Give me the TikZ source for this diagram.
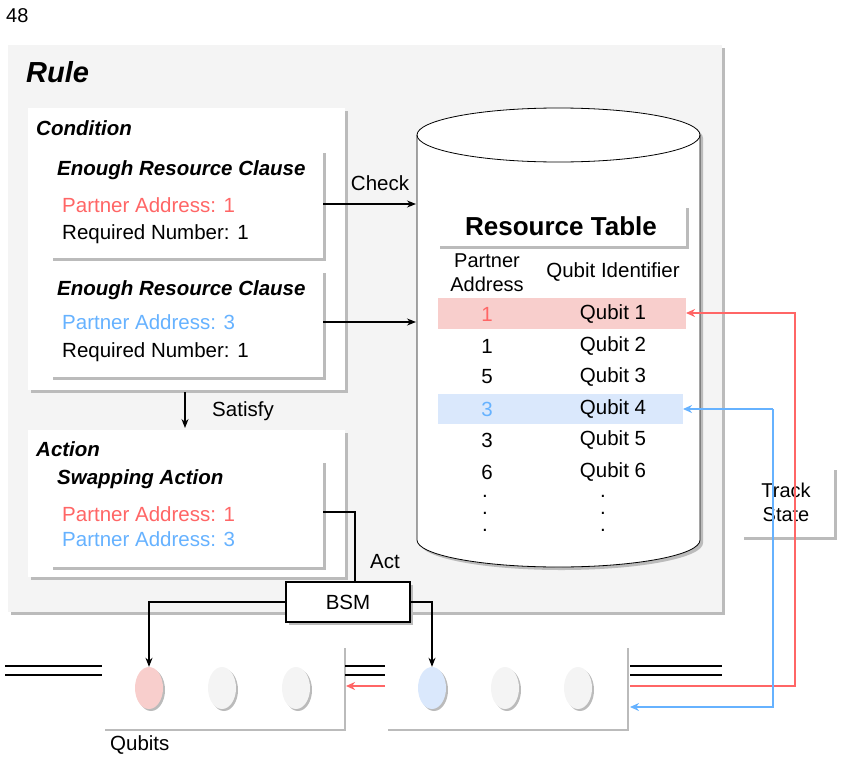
\documentclass[tikz,border=0pt]{standalone}
\usepackage{fontspec}
\setmainfont{Liberation Sans}
\usetikzlibrary{arrows.meta,shapes.geometric}
\definecolor{pred}{HTML}{FF6666}
\definecolor{pblue}{HTML}{66B2FF}
\definecolor{fred}{HTML}{F8CECC}
\definecolor{fblue}{HTML}{DAE8FC}
\definecolor{fgray}{HTML}{F4F4F4}
\definecolor{shd}{HTML}{BBBBBB}
\begin{document}
\begin{tikzpicture}[x=1pt,y=-1pt,
  t/.style={font=\fontsize{20.5}{22}\selectfont, inner sep=0pt},
  tb/.style={font=\fontsize{20.5}{22}\selectfont\bfseries\itshape, inner sep=0pt},
  arr/.style={-{Stealth[length=9pt,width=7pt]}, line width=1.2pt},
  carr/.style={-{Stealth[length=9pt,width=8pt]}, line width=1.5pt},
]
\useasboundingbox (0,0) rectangle (842,760);
\node[font=\fontsize{20}{22}\selectfont\rmfamily, anchor=west, inner sep=0pt] (pg) at (6,16) {48};
% Rule panel
\fill[shd] (11,48) rectangle (725,615);
\fill[fgray] (8,45) rectangle (722,612);
\node[font=\fontsize{29}{32}\selectfont\bfseries\itshape, anchor=west, inner sep=0pt] (rule) at (26,72) {Rule};
% Condition box
\fill[shd] (31,111) rectangle (348,393);
\fill[white] (28,108) rectangle (345,390);
\node[tb, anchor=west] (cond) at (36,128) {Condition};
\fill[shd] (53,153) rectangle (326,261);
\fill[white] (50,150) rectangle (323,258);
\coordinate (c1e) at (323,204);
\node[tb, anchor=west] (c1t) at (57,170) {Enough Resource Clause};
\node[t, anchor=west, text=pred] (c1p) at (62,205) {Partner Address: 1};
\node[t, anchor=west] (c1r) at (62,234) {Required Number: 1};
\fill[shd] (53,273) rectangle (326,380);
\fill[white] (50,270) rectangle (323,377);
\coordinate (c2e) at (323,322);
\node[tb, anchor=west] (c2t) at (57,290) {Enough Resource Clause};
\node[t, anchor=west, text=pblue] (c2p) at (62,322) {Partner Address: 3};
\node[t, anchor=west] (c2r) at (62,352) {Required Number: 1};
% Action
\fill[shd] (31,433) rectangle (348,580);
\fill[white] (28,430) rectangle (345,577);
\node[tb, anchor=west] (act) at (36,449) {Action};
\fill[shd] (53,463) rectangle (326,570);
\fill[white] (50,460) rectangle (323,567);
\node[tb, anchor=west] (swt) at (57,479) {Swapping Action};
\node[t, anchor=west, text=pred] (sp1) at (62,514) {Partner Address: 1};
\node[t, anchor=west, text=pblue] (sp3) at (62,539) {Partner Address: 3};
\coordinate (swe) at (323,512);
% Satisfy
\coordinate (s1) at (185,392); \coordinate (s2) at (185,428);
\draw[arr] (s1) -- (s2);
\node[t] (sat) at (243,411) {Satisfy};
% Cylinder
\begin{scope}[shift={(3,3)}]
\fill[shd] (417,135) -- (417,540) arc[start angle=180,end angle=0,x radius=141.5,y radius=27] -- (700,135) arc[start angle=0,end angle=-180,x radius=141.5,y radius=27] -- cycle;
\end{scope}
\filldraw[fill=white, draw=black, line width=0.8pt] (417,135) -- (417,540) arc[start angle=180,end angle=0,x radius=141.5,y radius=27] -- (700,135) arc[start angle=0,end angle=-180,x radius=141.5,y radius=27] -- cycle;
\draw[line width=0.8pt] (417,135) arc[start angle=180,end angle=0,x radius=141.5,y radius=27];
\coordinate (cy1) at (416,204); \coordinate (cy2) at (416,322);
\draw[arr] (c1e) -- (cy1);
\draw[arr] (c2e) -- (cy2);
\node[t] (chk) at (380,183) {Check};
% Resource table
\fill[shd] (440,208) rectangle (689,249);
\fill[white] (438,205) rectangle (686,246);
\node[font=\fontsize{26}{28}\selectfont\bfseries, inner sep=0pt] (rt) at (561,226) {Resource Table};
\node[t, align=center, font=\fontsize{20}{24}\selectfont] (h1) at (487,273) {Partner\\Address};
\node[t] (h2) at (613,272) {Qubit Identifier};
\fill[fred] (438,298) rectangle (686,329);
\fill[fblue] (438,394) rectangle (683,424);
\node[t, text=pred] (a1) at (487,314) {1}; \node[t] (q1) at (613,314) {Qubit 1};
\node[t] (a2) at (487,346) {1}; \node[t] (q2) at (613,346) {Qubit 2};
\node[t] (a3) at (487,377) {5}; \node[t] (q3) at (613,377) {Qubit 3};
\node[t, text=pblue] (a4) at (487,409) {3}; \node[t] (q4) at (613,409) {Qubit 4};
\node[t] (a5) at (487,440) {3}; \node[t] (q5) at (613,440) {Qubit 5};
\node[t] (a6) at (487,472) {6}; \node[t] (q6) at (613,472) {Qubit 6};
\foreach \yy [count=\i] in {496,513,530}{
  \node[t] (da\i) at (485,\yy) {.};
  \node[t] (db\i) at (603,\yy) {.};
}
% Track state
\fill[shd] (744,470) rectangle (837,540);
\fill[white] (741,467) rectangle (834,537);
\node[t, align=center, font=\fontsize{20}{24}\selectfont] (ts) at (786,502) {Track\\State};
% BSM
\fill[shd] (289,585) rectangle (413,625);
\node[draw, line width=1.2pt, fill=white, minimum width=124pt, minimum height=40pt, t] (bsm) at (348,602) {BSM};
\node[t] (actl) at (385,562) {Act};
\draw[line width=1.2pt] (swe) -- (355,512) -- (355,582);
% qubit boxes
\draw[shd, line width=1.5pt] (345,648) -- (345,730) -- (105,730);
\draw[shd, line width=1.5pt] (628,648) -- (628,730) -- (388,730);
\foreach \n/\xx/\c in {q1c/149/fred,q2c/222/fgray,q3c/296/fgray,q4c/432/fblue,q5c/505/fgray,q6c/578/fgray}{
  \fill[shd] (\xx+2,690) ellipse[x radius=14, y radius=21];
  \node[ellipse, minimum width=28pt, minimum height=42pt, fill=\c, inner sep=0pt] (\n) at (\xx,688) {};
}
\draw[arr] (bsm.west) -| (q1c.north);
\draw[arr] (bsm.east) -| (q4c.north);
% wires
\foreach \xa/\xb in {5/102,345/385,630/722}{
  \draw[line width=1.5pt] (\xa,666) -- (\xb,666);
  \draw[line width=1.5pt] (\xa,675) -- (\xb,675);
}
% red / blue tracks
\coordinate (rb) at (385,686); \coordinate (rl) at (346,686);
\draw[pred, carr] (rb) -- (rl);
\coordinate (rs) at (630,686); \coordinate (bs) at (630,707);
\coordinate (rt1) at (686,313); \coordinate (bt1) at (683,409);
\draw[pred, carr] (rs) -- (795,686) -- (795,313) -- (rt1);
\draw[pblue, carr] (773,409) -- (773,707) -- (bs);
\draw[pblue, carr] (773,409) -- (bt1);
\node[t, anchor=west] (qb) at (110,745) {Qubits};
\end{tikzpicture}
\end{document}
